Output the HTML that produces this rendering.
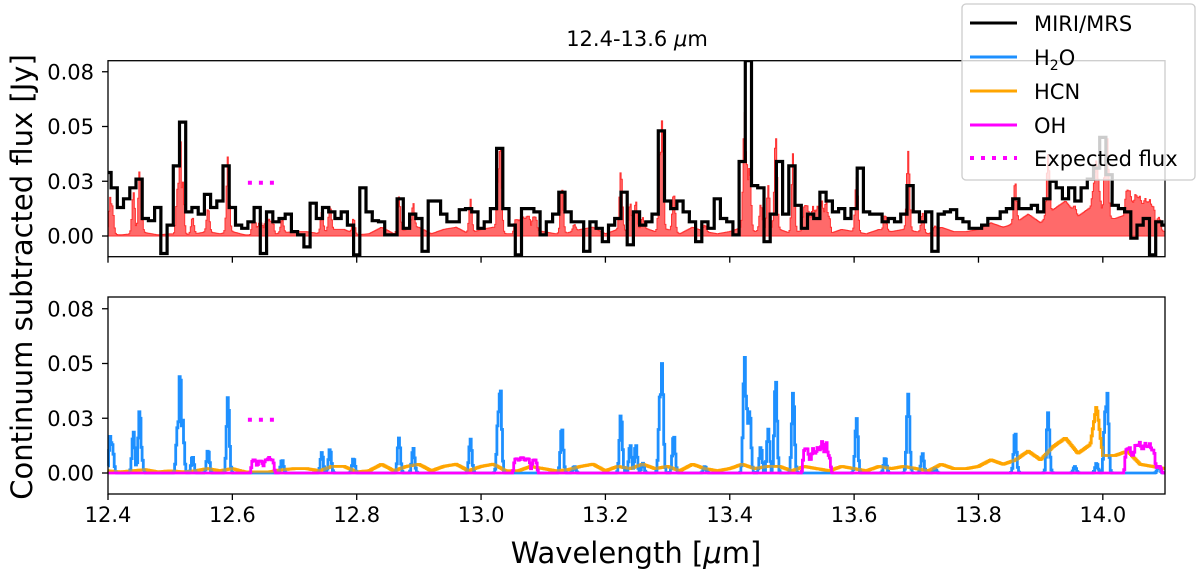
<!DOCTYPE html>
<html><head><meta charset="utf-8"><style>
html,body{margin:0;padding:0;background:#fff;}
svg{display:block;font-family:"DejaVu Sans","Liberation Sans",sans-serif;}
</style></head><body>
<svg id="chart" width="1200" height="577" viewBox="0 0 1200 577" xmlns="http://www.w3.org/2000/svg">
<g id="top"></g>
<g id="bot"></g>
<g id="axes"></g>
<text x="637" y="46" font-size="21" text-anchor="middle">12.4-13.6 <tspan font-style="italic">μ</tspan>m</text>
<text x="636" y="563" font-size="29" text-anchor="middle">Wavelength [<tspan font-style="italic">μ</tspan>m]</text>
<text transform="translate(32,277) rotate(-90)" font-size="29" text-anchor="middle">Continuum subtracted flux [Jy]</text>
<g id="legend"></g>
</svg>
<script>
// ---- data ----
const obsStart = 12.40, obsStep = 0.01;
const obsFlux = [0.029,0.022,0.013,0.017,0.022,0.026,0.008,0.007,0.013,-0.008,0.005,0.032,0.052,0.011,0.013,0.010,0.019,0.013,0.016,0.032,
0.013,0.005,0.0035,0.0065,0.013,-0.008,0.011,0.0065,0.008,0.010,0.002,0.0005,-0.005,0.015,0.008,0.013,0.011,0.008,0.011,0.005,
-0.0086,0.022,0.011,0.007,0.0065,0.0005,0.0005,0.017,0.0035,0.010,0.008,-0.007,0.016,0.016,0.010,0.0065,0.0065,0.012,0.0125,0.011,
0.0035,0.0065,0.0125,0.040,0.0125,0.005,-0.0086,0.0125,0.0125,0.011,0.0005,0.0065,0.010,0.020,0.011,0.0065,0.0065,-0.007,0.0065,0.0035,
-0.0026,0.005,0.008,0.020,-0.004,0.011,0.005,0.0065,0.010,0.048,0.016,0.0125,0.016,0.011,0.0065,-0.0026,0.0065,0.0035,0.017,0.008,
0.0065,0.0005,0.034,0.082,0.023,0.022,-0.0026,0.010,0.034,0.010,0.032,0.014,0.0035,0.010,0.008,0.020,0.016,0.011,0.0125,0.008,
0.0125,0.031,0.011,0.010,0.010,0.0065,0.008,0.0065,0.010,0.023,0.011,0.0065,0.011,-0.007,0.010,0.011,0.012,0.008,0.0065,0.0035,
0.0035,0.005,0.008,0.008,0.011,0.0125,0.017,0.0125,0.0125,0.014,0.011,0.017,0.025,0.022,0.017,0.022,0.016,0.022,0.026,0.031,
0.045,0.028,0.014,0.0125,0.011,-0.001,0.005,0.008,-0.0086,0.0065,0.005];
const h2oWave = [12.404,12.407,12.441,12.451,12.453,12.512,12.516,12.520,12.536,12.561,12.593,12.68,12.744,12.757,12.795,12.868,12.891,12.983,13.028,13.031,13.130,13.15,13.225,13.24,13.249,13.26,13.288,13.291,13.310,13.36,13.424,13.428,13.432,13.450,13.462,13.474,13.502,13.604,13.65,13.687,13.71,13.73,13.859,13.912,13.955,13.99,14.004,14.007,14.09];
const h2oFlux = [0.017,0.013,0.019,0.029,0.013,0.021,0.047,0.025,0.0076,0.0106,0.035,0.006,0.0094,0.011,0.0068,0.016,0.0114,0.0155,0.028,0.040,0.021,0.003,0.027,0.013,0.013,0.0045,0.036,0.050,0.0174,0.003,0.053,0.0295,0.029,0.012,0.020,0.043,0.037,0.025,0.007,0.036,0.009,0.002,0.019,0.0275,0.003,0.0045,0.028,0.037,0.003];
const hcnWave = [12.40,12.42,12.44,12.46,12.48,12.50,12.52,12.54,12.56,12.58,12.60,12.62,12.64,12.66,12.68,12.70,12.72,12.74,12.76,12.78,12.80,12.82,12.84,12.86,12.88,12.90,12.92,12.94,12.96,12.98,13.00,13.02,13.04,13.06,13.08,13.10,13.12,13.14,13.16,13.18,13.20,13.22,13.24,13.26,13.28,13.30,13.32,13.34,13.36,13.38,13.40,13.42,13.44,13.46,13.48,13.50,13.52,13.54,13.56,13.58,13.60,13.62,13.64,13.66,13.68,13.70,13.72,13.74,13.76,13.78,13.80,13.82,13.84,13.86,13.88,13.90,13.92,13.94,13.96,13.98,13.99,14.00,14.02,14.04,14.06,14.08,14.10];
const hcnFlux = [0.001,0.0005,0.001,0.0015,0.0005,0.001,0.0005,0.001,0.002,0.001,0.002,0.0005,0.0005,0.0005,0.0015,0.002,0.002,0.001,0.003,0.003,0.0005,0.001,0.004,0.001,0.003,0.004,0.001,0.003,0.004,0.001,0.003,0.004,0.001,0.001,0.003,0.002,0.001,0.0015,0.003,0.004,0.001,0.003,0.002,0.004,0.002,0.003,0.001,0.004,0.002,0.001,0.002,0.004,0.002,0.003,0.003,0.001,0.003,0.002,0.001,0.003,0.002,0.001,0.003,0.002,0.003,0.002,0.001,0.004,0.002,0.002,0.003,0.006,0.004,0.006,0.010,0.006,0.012,0.016,0.009,0.013,0.031,0.008,0.008,0.010,0.004,0.003,0.002];
const ohWave = [12.635,12.645,12.655,12.663,13.057,13.066,13.075,13.086,13.522,13.530,13.537,13.545,13.552,13.558,14.040,14.048,14.056,14.064,14.072,14.080,14.090];
const ohFlux = [0.006,0.0055,0.006,0.006,0.0065,0.007,0.0065,0.006,0.011,0.006,0.009,0.0105,0.009,0.008,0.011,0.008,0.0125,0.011,0.012,0.0105,0.003];
const expectedWave = [12.625,12.670];
const expectedFlux = [0.0243,0.0243];
const xTicks = [12.4,12.6,12.8,13.0,13.2,13.4,13.6,13.8,14.0];
const xTickLabels = ["12.4","12.6","12.8","13.0","13.2","13.4","13.6","13.8","14.0"];
const yTicks = [0,0.025,0.05,0.075];
const yTickLabels = ["0.00","0.03","0.05","0.08"];

// ---- axes ----
const X0=108,X1=1165,WMIN=12.4,WMAX=14.1;
const xs = w => X0+(w-WMIN)/(WMAX-WMIN)*(X1-X0);
const KY=2190;
const panels = {top:{y0:236,top:60.7,bot:256.7}, bot:{y0:473,top:297,bot:494}};
const ys = (p,v)=>Math.max(p.top, Math.min(p.bot, p.y0 - v*KY));
const NS='http://www.w3.org/2000/svg';
function mk(tag,attrs,parent){const e=document.createElementNS(NS,tag);for(const k in attrs)e.setAttribute(k,attrs[k]);parent.appendChild(e);return e;}

const gStep=0.0018, sig=0.0022;
const grid=[];for(let w=WMIN;w<=WMAX+1e-9;w+=gStep)grid.push(w);
function lineProfile(waves,fluxes,w){let s=0;for(let i=0;i<waves.length;i++){const d=(w-waves[i])/sig;if(Math.abs(d)<5)s=Math.max(s,fluxes[i]*Math.exp(-0.5*d*d));}return s;}
function interp(wa,fa,w){if(w<=wa[0])return fa[0];for(let i=1;i<wa.length;i++){if(w<=wa[i]){const t=(w-wa[i-1])/(wa[i]-wa[i-1]);return fa[i-1]+t*(fa[i]-fa[i-1]);}}return fa[fa.length-1];}
const h2oM=grid.map(w=>lineProfile(h2oWave,h2oFlux,w));
const ohM=grid.map(w=>{let s=0;for(let i=0;i<ohWave.length;i++){const d=(w-ohWave[i])/0.0028;if(Math.abs(d)<5)s+=ohFlux[i]*Math.exp(-0.5*d*d*d*d/4);}return s;});
const hcnM=grid.map(w=>interp(hcnWave,hcnFlux,w));
const totM=grid.map((w,i)=>h2oM[i]+ohM[i]+hcnM[i]);

function stepPath(p,wa,va,half){let d='';for(let i=0;i<wa.length;i++){const xa=xs(Math.max(WMIN,wa[i]-half)),xb=xs(Math.min(WMAX,wa[i]+half)),y=ys(p,va[i]);d+=(i?'L':'M')+xa.toFixed(1)+','+y.toFixed(1)+'L'+xb.toFixed(1)+','+y.toFixed(1);}return d;}
function linePath(p,wa,va){return wa.map((w,i)=>(i?'L':'M')+xs(w).toFixed(1)+','+ys(p,va[i]).toFixed(1)).join('');}

const topG=document.getElementById('top'), botG=document.getElementById('bot'), axG=document.getElementById('axes');
const cp=mk('clipPath',{id:'ct'},topG);
mk('rect',{x:X0,y:panels.top.top,width:X1-X0,height:panels.top.bot-panels.top.top},cp);

let fd=stepPath(panels.top,grid,totM,gStep/2);
fd+='L'+xs(WMAX)+','+ys(panels.top,0)+'L'+xs(WMIN)+','+ys(panels.top,0)+'Z';
const fill=mk('path',{d:fd,fill:'#ff5a5a','fill-opacity':'0.9',stroke:'#ff3030','stroke-width':'1'},topG);


const obsW=obsFlux.map((v,i)=>obsStart+i*obsStep);
const obs=mk('path',{d:stepPath(panels.top,obsW,obsFlux,obsStep/2),fill:'none',stroke:'#000','stroke-width':'3.2','clip-path':'url(#ct)'},topG);


const ex1=mk('path',{d:linePath(panels.top,expectedWave,expectedFlux),stroke:'#ff00ff','stroke-width':'4','stroke-dasharray':'4 7',fill:'none'},topG);



const hcnL=mk('path',{d:stepPath(panels.bot,grid,hcnM,gStep/2),fill:'none',stroke:'#ffa500','stroke-width':'2.8'},botG);


const h2oL=mk('path',{d:stepPath(panels.bot,grid,h2oM,gStep/2),fill:'none',stroke:'#1e90ff','stroke-width':'2.8'},botG);


const hcn2=mk('path',{d:stepPath(panels.bot,grid,hcnM,gStep/2),fill:'none',stroke:'#ffa500','stroke-width':'2.8','stroke-opacity':'0.6'},botG);


const ohL=mk('path',{d:stepPath(panels.bot,grid,ohM,gStep/2),fill:'none',stroke:'#ff00ff','stroke-width':'2.8'},botG);


const ex2=mk('path',{d:linePath(panels.bot,expectedWave,expectedFlux),stroke:'#ff00ff','stroke-width':'4','stroke-dasharray':'4 7',fill:'none'},botG);



['top','bot'].forEach(k=>{
  const p=panels[k];
  const fr=mk('rect',{x:X0,y:p.top,width:X1-X0,height:p.bot-p.top,fill:'none',stroke:'#000','stroke-width':'1.3'},axG);
  
  
  yTicks.forEach((v,i)=>{
    const y=p.y0-v*KY;
    const t=mk('line',{x1:X0-6,x2:X0,y1:y,y2:y,stroke:'#000','stroke-width':'1.3'},axG);
    
    
    const l=mk('text',{x:X0-14,y:y+7.5,'font-size':'21','text-anchor':'end'},axG);
    l.textContent=yTickLabels[i];
    
    
  });
  xTicks.forEach((w,i)=>{
    const x=xs(w);
    const t=mk('line',{x1:x,x2:x,y1:p.bot,y2:p.bot+6,stroke:'#000','stroke-width':'1.3'},axG);
    
    
    if(k==='bot'){
      const l=mk('text',{x:x,y:p.bot+28,'font-size':'21','text-anchor':'middle'},axG);
      l.textContent=xTickLabels[i];
      
      
    }
  });
});

const lg=document.getElementById('legend');
const box=mk('rect',{x:962,y:4,width:233,height:176,rx:4,fill:'#fff','fill-opacity':'0.8',stroke:'#cccccc','stroke-width':'1.3'},lg);


const entries=[['MIRI/MRS','#000',''],['H2O','#1e90ff',''],['HCN','#ffa500',''],['OH','#ff00ff',''],['Expected flux','#ff00ff','4 7']];
const rowsY=[23,57,91,125,158];
entries.forEach((e,i)=>{
  const y=rowsY[i];
  const ln=mk('line',{x1:970,x2:1017,y1:y,y2:y,stroke:e[1],'stroke-width':e[2]?'4':'3','stroke-dasharray':e[2]},lg);
  
  
  const tx=mk('text',{x:1034,y:y+8,'font-size':'21'},lg);
  if(e[0]==='H2O'){tx.innerHTML='H<tspan font-size="14" dy="5">2</tspan><tspan dy="-5">O</tspan>';}else tx.textContent=e[0];
  
  
});
</script>
</body></html>
